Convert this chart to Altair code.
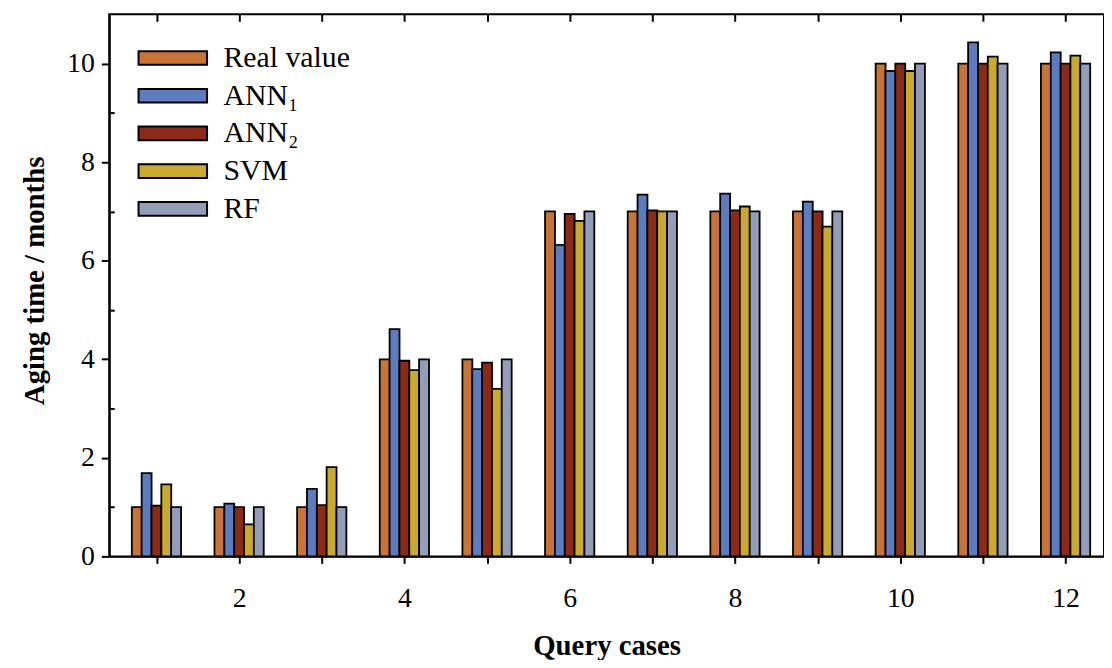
import altair as alt
import pandas as pd

# ---- data ----
cases = list(range(1, 13))
series = ["Real value", "ANN₁", "ANN₂", "SVM", "RF"]
real_value = [1.0, 1.0, 1.0, 4.0, 4.0, 7.0, 7.0, 7.0, 7.0, 10.0, 10.0, 10.0]
ann1 = [1.69, 1.07, 1.37, 4.61, 3.80, 6.32, 7.34, 7.36, 7.20, 9.85, 10.43, 10.23]
ann2 = [1.03, 1.00, 1.04, 3.97, 3.93, 6.95, 7.02, 7.02, 7.00, 10.00, 10.00, 10.00]
svm = [1.46, 0.65, 1.81, 3.78, 3.40, 6.81, 7.00, 7.10, 6.69, 9.85, 10.14, 10.16]
rf = [1.0, 1.0, 1.0, 4.0, 4.0, 7.0, 7.0, 7.0, 7.0, 10.0, 10.0, 10.0]
colors = ["#C97437", "#5B7DBE", "#8B2A17", "#C9A92E", "#939DB8"]
y_major = [0, 2, 4, 6, 8, 10]
y_minor = [1, 3, 5, 7, 9]

values_by_series = [real_value, ann1, ann2, svm, rf]
rows = []
for k, (name, vals) in enumerate(zip(series, values_by_series)):
    for c, v in zip(cases, vals):
        rows.append({"case": c, "series": name, "k": k, "value": v})
df = pd.DataFrame(rows)

FONT = "Liberation Serif"
xscale = alt.Scale(domain=[0.489, 12.405], nice=False, zero=False)
yscale = alt.Scale(domain=[0, 11], nice=False, zero=True)

base = alt.Chart(df).transform_calculate(pos="datum.case + (datum.k - 2) * 0.119")

bars = base.mark_bar(width=10, stroke="black", strokeWidth=1.8).encode(
    x=alt.X("pos:Q", scale=xscale,
            axis=alt.Axis(values=cases, labelExpr="datum.value % 2 == 0 ? datum.label : ''",
                          title="Query cases", tickSize=7, labelPadding=21,
                          titleY=90, titleBaseline="middle")),
    y=alt.Y("value:Q", scale=yscale,
            axis=alt.Axis(values=y_major, title="Aging time / months", tickSize=8,
                          labelPadding=7, titleX=-75, titleY=268,
                          titleBaseline="middle", titleAlign="center")),
    fill=alt.Fill("series:N", scale=alt.Scale(domain=series, range=colors),
                  legend=alt.Legend(orient="none", legendX=49, legendY=29, title=None,
                                    symbolType="M-2.5,-0.5H2.5V0.5H-2.5Z", symbolSize=762,
                                    symbolStrokeColor="black", symbolStrokeWidth=2,
                                    labelFont=FONT, labelFontSize=30, labelColor="black",
                                    labelOffset=36, rowPadding=8, padding=0, offset=0)),
)

ghost = base.mark_bar(width=10, opacity=0).encode(
    x=alt.X("pos:Q", scale=xscale,
            axis=alt.Axis(orient="top", values=cases, labels=False, domain=False,
                          tickSize=7, offset=-7, title=None)),
    y=alt.Y("value:Q", scale=yscale,
            axis=alt.Axis(orient="left", values=y_minor, labels=False, domain=False,
                          tickSize=5, offset=-5, title=None)),
)

chart = alt.layer(bars, ghost).resolve_axis(x="independent", y="independent").properties(
    width=1002, height=546,
    autosize=alt.AutoSizeParams(type="none"),
    padding={"left": 102, "top": 4, "right": 0, "bottom": 102},
).configure_view(stroke="black", strokeWidth=2).configure_axis(
    domainColor="black", domainWidth=2, tickColor="black", tickWidth=2, grid=False,
    labelFont=FONT, labelFontSize=28, labelColor="black",
    titleFont=FONT, titleFontSize=29, titleFontWeight="bold", titleColor="black",
)

chart.save("out.html", embed_options={"renderer": "svg", "actions": False})
